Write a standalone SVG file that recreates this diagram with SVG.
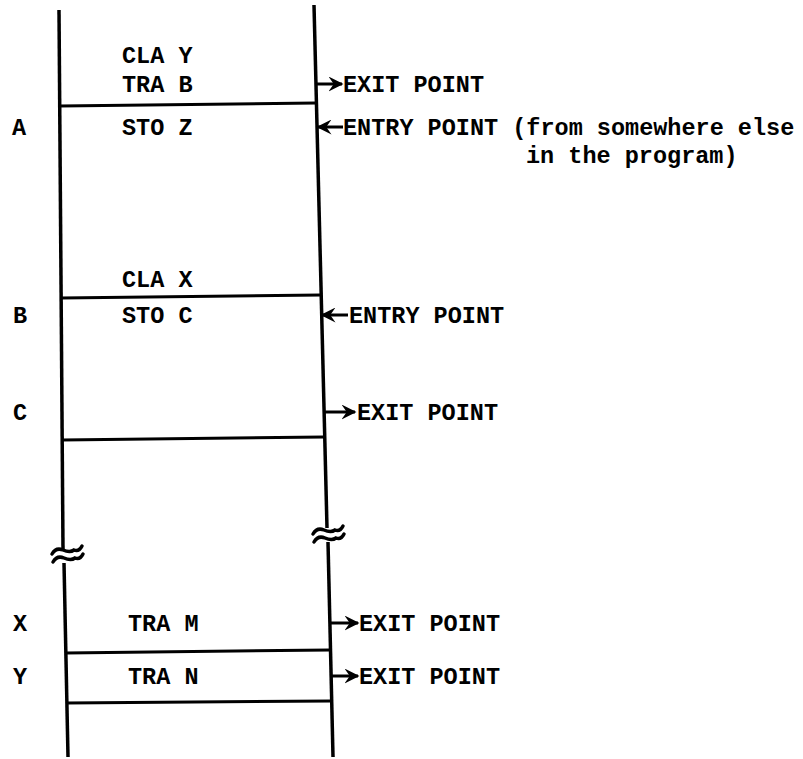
<svg xmlns="http://www.w3.org/2000/svg" width="803" height="759" viewBox="0 0 803 759">
<style>
text{font-family:"Liberation Mono","Courier New",monospace;font-weight:bold;font-size:23.5px;fill:#000}
.v{stroke:#000;stroke-width:3.5;fill:none;stroke-linecap:butt}
.h{stroke:#000;stroke-width:3;fill:none}
.a{stroke:#000;stroke-width:3;fill:none;marker-end:url(#ah)}
.w{stroke:#000;stroke-width:3.5;fill:none;stroke-linecap:round}
</style>
<defs>
<marker id="ah" viewBox="0 0 10 10" refX="9" refY="5" markerWidth="5" markerHeight="5" orient="auto" markerUnits="strokeWidth">
<path d="M0,0 L10,5 L0,10 L3.5,5 Z" fill="#000"/>
</marker>
</defs>
<rect width="803" height="759" fill="#fff"/>
<g id="frame">
<path class="v" d="M59,10 L63,549"/>
<path class="v" d="M64,563 L68,757"/>
<path class="v" d="M314,5 L327,528"/>
<path class="v" d="M328,542 L333,757"/>
<path class="w" d="M52,554 q4,-7 11,-4 t11,0 q5,2 8,-4"/>
<path class="w" d="M53,562 q4,-7 11,-4 t11,0 q5,2 8,-4"/>
<path class="w" d="M313,534 q4,-7 11,-4 t11,0 q5,2 8,-4"/>
<path class="w" d="M314,542 q4,-7 11,-4 t11,0 q5,2 8,-4"/>
</g>
<g id="block1">
<path class="h" d="M60,106 L316,103"/>
<text x="122" y="63">CLA Y</text>
<text x="122" y="92">TRA B</text>
</g>
<g id="blockA">
<text x="12" y="135">A</text>
<text x="122" y="135">STO Z</text>
</g>
<g id="block2">
<path class="h" d="M61,298 L321,295"/>
<text x="122" y="287">CLA X</text>
</g>
<g id="blockB">
<text x="13" y="323">B</text>
<text x="122" y="323">STO C</text>
</g>
<g id="blockC">
<text x="13" y="420">C</text>
<path class="h" d="M62,440 L324,437"/>
</g>
<g id="blockX">
<text x="13" y="631">X</text>
<text x="128" y="631">TRA M</text>
<path class="h" d="M66,653 L330,650"/>
</g>
<g id="blockY">
<text x="13" y="684">Y</text>
<text x="128" y="684">TRA N</text>
<path class="h" d="M67,703 L331,701"/>
</g>
<g id="connectors">
<path class="a" d="M317,84 L342,84"/>
<path class="a" d="M343,127 L318,127"/>
<path class="a" d="M348,315 L322,315"/>
<path class="a" d="M325,412 L355,412"/>
<path class="a" d="M331,623 L358,623"/>
<path class="a" d="M332,676 L358,676"/>
</g>
<g id="labels">
<text x="343" y="135">ENTRY POINT (from somewhere else</text>
<text x="526" y="163">in the program)</text>
<text x="343" y="92">EXIT POINT</text>
<text x="349" y="323">ENTRY POINT</text>
<text x="357" y="420">EXIT POINT</text>
<text x="359" y="631">EXIT POINT</text>
<text x="359" y="684">EXIT POINT</text>
</g>
</svg>
